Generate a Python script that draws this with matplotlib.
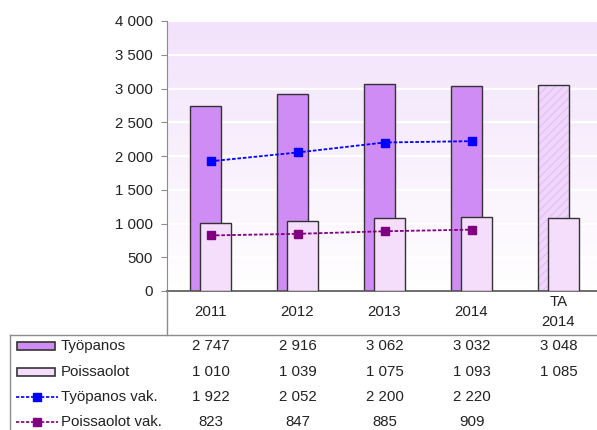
import numpy as np
import matplotlib
matplotlib.use("Agg")
import matplotlib.pyplot as plt
from matplotlib import transforms
from matplotlib.colors import LinearSegmentedColormap
from matplotlib.lines import Line2D
from matplotlib.patches import Rectangle
from matplotlib.ticker import FuncFormatter

plt.rcParams['font.family'] = ['Liberation Sans', 'DejaVu Sans']
plt.rcParams['font.size'] = 10.8
plt.rcParams['text.color'] = '#222222'
plt.rcParams['ytick.labelcolor'] = '#222222'

# data
categories = ["2011", "2012", "2013", "2014", "TA\n2014"]
tyopanos = [2747, 2916, 3062, 3032, 3048]
poissaolot = [1010, 1039, 1075, 1093, 1085]
tyopanos_vak = [1922, 2052, 2200, 2220]
poissaolot_vak = [823, 847, 885, 909]
row_names = ["Työpanos", "Poissaolot", "Työpanos vak.", "Poissaolot vak."]

c_tyo = '#cf8cf4'
c_poi = '#f4defc'
c_ta = '#f0d6fb'
c_blue = '#0000ff'
c_purple = '#800080'
edge = '#333333'
frame = '#8c8c8c'

W, H = 597, 430
def fx(p): return p / W
def fy(p): return 1 - p / H

def fmt(v):
    return "{:,}".format(int(v)).replace(",", " ")

fig = plt.figure(figsize=(W / 100, H / 100), dpi=100)
ax = fig.add_axes([fx(167), fy(291), 435 / W, 270 / H])
x = np.arange(len(categories))

# background gradient
cmap = LinearSegmentedColormap.from_list("bg", ['#ffffff', '#f9f0fd', '#f2e2fb'])
grad = np.linspace(0, 1, 256).reshape(-1, 1)
ax.imshow(grad, extent=[-0.5, 4.5, 0, 4000], origin='lower', aspect='auto', cmap=cmap, zorder=0)
for g in range(500, 4001, 500):
    ax.axhline(g, color='white', lw=1.6, zorder=1)

bw = 0.356
off = 0.063
for i in range(len(categories)):
    if i < 4:
        ax.bar(x[i] - off, tyopanos[i], bw, color=c_tyo, edgecolor=edge, lw=1, zorder=2)
    else:
        ax.bar(x[i] - off, tyopanos[i], bw, color=c_ta, edgecolor='#e6c2f6', hatch='////', lw=0, zorder=2)
        ax.bar(x[i] - off, tyopanos[i], bw, fill=False, edgecolor=edge, lw=1, zorder=2)
    ax.bar(x[i] + off, poissaolot[i], bw, color=c_poi, edgecolor=edge, lw=1, zorder=3)

ax.plot(x[:4], tyopanos_vak, color=c_blue, ls=(0, (2, 1)), lw=1.3, marker='s', ms=6, zorder=4)
ax.plot(x[:4], poissaolot_vak, color=c_purple, ls=(0, (2, 1)), lw=1.3, marker='s', ms=6, zorder=4)

ax.set_xlim(-0.5, 4.5)
ax.set_ylim(0, 4000)
ax.set_yticks(range(0, 4001, 500))
ax.yaxis.set_major_formatter(FuncFormatter(lambda v, p: fmt(v)))
ax.tick_params(axis='y', length=4, color=frame, pad=6)
ax.set_xticks([])
for s in ['top', 'right']:
    ax.spines[s].set_visible(False)
ax.spines['left'].set_color(frame)
ax.spines['bottom'].set_color('#555555')
ax.spines['bottom'].set_linewidth(1.2)

# table below
bt = transforms.blended_transform_factory(ax.transData, fig.transFigure)
for i, c in enumerate(categories):
    ax.text(x[i], fy(312), c, transform=bt, ha='center', va='center', clip_on=False, linespacing=1.6)

rows_y = [346, 372, 397, 422]
table = [tyopanos, poissaolot, tyopanos_vak, poissaolot_vak]
for r, vals in enumerate(table):
    for i, v in enumerate(vals):
        ax.text(x[i], fy(rows_y[r]), fmt(v), transform=bt, ha='center', va='center', clip_on=False)
    fig.text(fx(61), fy(rows_y[r]), row_names[r], ha='left', va='center')

# legend keys
fig.add_artist(Rectangle((fx(17), fy(rows_y[0] + 4)), fx(38), 8 / H, facecolor=c_tyo, edgecolor=edge, lw=1.2))
fig.add_artist(Rectangle((fx(17), fy(rows_y[1] + 4)), fx(38), 8 / H, facecolor=c_poi, edgecolor=edge, lw=1.2))
for r, col in [(2, c_blue), (3, c_purple)]:
    fig.add_artist(Line2D([fx(16), fx(58)], [fy(rows_y[r])] * 2, color=col, ls=(0, (2, 1)), lw=1.2))
    fig.add_artist(Line2D([fx(37)], [fy(rows_y[r])], color=col, marker='s', ms=6))

# table frame
fig.add_artist(Line2D([fx(10), 1], [fy(335)] * 2, color=frame, lw=1))
fig.add_artist(Line2D([fx(10), fx(10)], [fy(335), 0], color=frame, lw=1))
fig.add_artist(Line2D([fx(167), fx(167)], [fy(291), fy(335)], color=frame, lw=1))

fig.savefig("out.png", dpi=100)
